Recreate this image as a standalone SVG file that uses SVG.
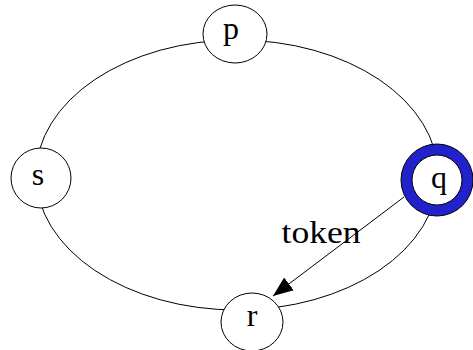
<svg xmlns="http://www.w3.org/2000/svg" width="473" height="350" viewBox="0 0 473 350">
<style>
.node{fill:#fff;stroke:#000;stroke-width:1}
.lbl{font-family:"Liberation Serif","Times New Roman",serif;font-size:32px;fill:#000;text-anchor:middle}
.edge{fill:none;stroke:#000;stroke-width:1}
</style>
<defs>
<marker id="ah" markerWidth="20" markerHeight="16" refX="20" refY="8" orient="auto" markerUnits="userSpaceOnUse">
<path d="M0,0 L20,8 L0,16 Z" fill="#000"/>
</marker>
</defs>
<rect width="473" height="350" fill="#fff"/>
<g id="connectors">
<ellipse class="edge" cx="237" cy="175" rx="201" ry="135"/>
<line class="edge" x1="404" y1="197" x2="273" y2="296" marker-end="url(#ah)"/>
<text class="lbl" x="321" y="243" textLength="79" lengthAdjust="spacingAndGlyphs">token</text>
</g>
<g id="p">
<ellipse class="node" cx="235" cy="34" rx="32" ry="29"/>
<text class="lbl" x="231" y="39">p</text>
</g>
<g id="s">
<ellipse class="node" cx="41" cy="178" rx="30" ry="30"/>
<text class="lbl" x="38" y="185">s</text>
</g>
<g id="q">
<circle cx="437" cy="180" r="36" fill="#2222cc" stroke="#000" stroke-width="1"/>
<circle class="node" cx="437" cy="180" r="25"/>
<text class="lbl" x="439" y="188">q</text>
</g>
<g id="r">
<ellipse class="node" cx="252" cy="322" rx="31" ry="29"/>
<text class="lbl" x="252" y="326">r</text>
</g>
</svg>
